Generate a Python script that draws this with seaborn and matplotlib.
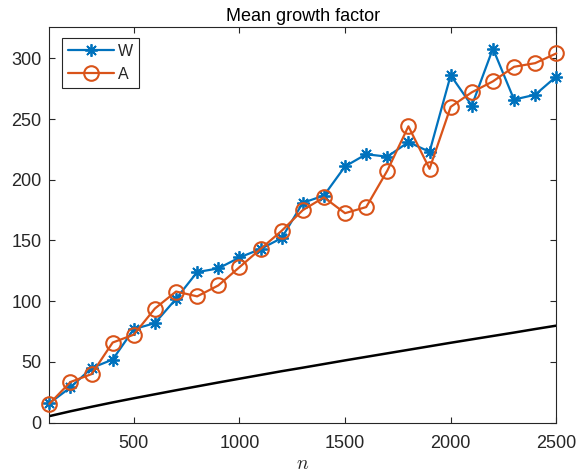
import numpy as np
import pandas as pd
import matplotlib
matplotlib.use("Agg")
import matplotlib.pyplot as plt
import seaborn as sns

n_values = [100, 200, 300, 400, 500, 600, 700, 800, 900, 1000, 1100, 1200, 1300,
            1400, 1500, 1600, 1700, 1800, 1900, 2000, 2100, 2200, 2300, 2400, 2500]
w_values = [16, 29, 45, 52, 77, 82, 102, 124, 127, 136, 143, 152, 181,
            187, 211, 221, 219, 231, 223, 286, 261, 308, 266, 270, 285]
a_values = [15.5, 33.5, 40, 66, 72.5, 94, 108, 104, 113, 128, 143, 158, 175,
            185.5, 172.5, 177.5, 207.5, 244, 209, 260, 272, 281, 293, 296, 304]
ref_values = [5.4, 9.4, 13.1, 16.7, 20.1, 23.4, 26.7, 29.9, 33.1, 36.2, 39.3, 42.4, 45.3,
              48.3, 51.3, 54.2, 57.1, 60.0, 62.9, 65.8, 68.6, 71.4, 74.2, 77.1, 79.9]
x_ticks = [500, 1000, 1500, 2000, 2500]
y_ticks = [0, 50, 100, 150, 200, 250, 300]

sns.set_style("ticks")
plt.rcParams['font.family'] = ['Liberation Sans', 'DejaVu Sans']
plt.rcParams['mathtext.fontset'] = 'cm'

df = pd.DataFrame({"n": n_values, "W": w_values, "A": a_values, "ref": ref_values})

fig = plt.figure(figsize=(5.76, 4.74), dpi=100)
ax = fig.add_axes([49.3 / 576, (474 - 422.7) / 474, 507 / 576, 396 / 474])

blue = "#0072BD"
orange = "#D95319"
sns.lineplot(data=df, x="n", y="W", ax=ax, color=blue, lw=1.6, marker=(8, 2, 0),
             markersize=9, markeredgewidth=1.3, markeredgecolor=blue, label="W",
             clip_on=False, zorder=3)
sns.lineplot(data=df, x="n", y="A", ax=ax, color=orange, lw=1.6, marker="o",
             markersize=10.5, markerfacecolor="none", markeredgewidth=1.5,
             markeredgecolor=orange, label="A", clip_on=False, zorder=4)
sns.lineplot(data=df, x="n", y="ref", ax=ax, color="black", lw=1.8, zorder=2, legend=False)

ax.set_xlim(100, 2500)
ax.set_ylim(0, 326)
ax.set_xticks(x_ticks)
ax.set_yticks(y_ticks)
ax.tick_params(direction="in", top=True, right=True, labelsize=13, colors="#262626",
               length=4, width=0.8)
ax.tick_params(axis="x", pad=8.5)
ax.tick_params(axis="y", pad=5.5)
for s in ax.spines.values():
    s.set_color("#262626")
    s.set_linewidth(0.8)
    s.set_visible(True)
ax.set_xlabel("$n$", fontsize=14, labelpad=3)
ax.set_ylabel("")
ax.set_title("Mean growth factor", fontsize=13, color="black", pad=4)

leg = ax.legend(loc="upper left", bbox_to_anchor=(0.0245, 0.972), borderaxespad=0,
                fontsize=11.5, handlelength=2.9, handletextpad=0.25, borderpad=0.38,
                labelspacing=0.5, fancybox=False, framealpha=1, edgecolor="#262626")
leg.get_frame().set_linewidth(0.8)

fig.savefig("out.png", dpi=100)
